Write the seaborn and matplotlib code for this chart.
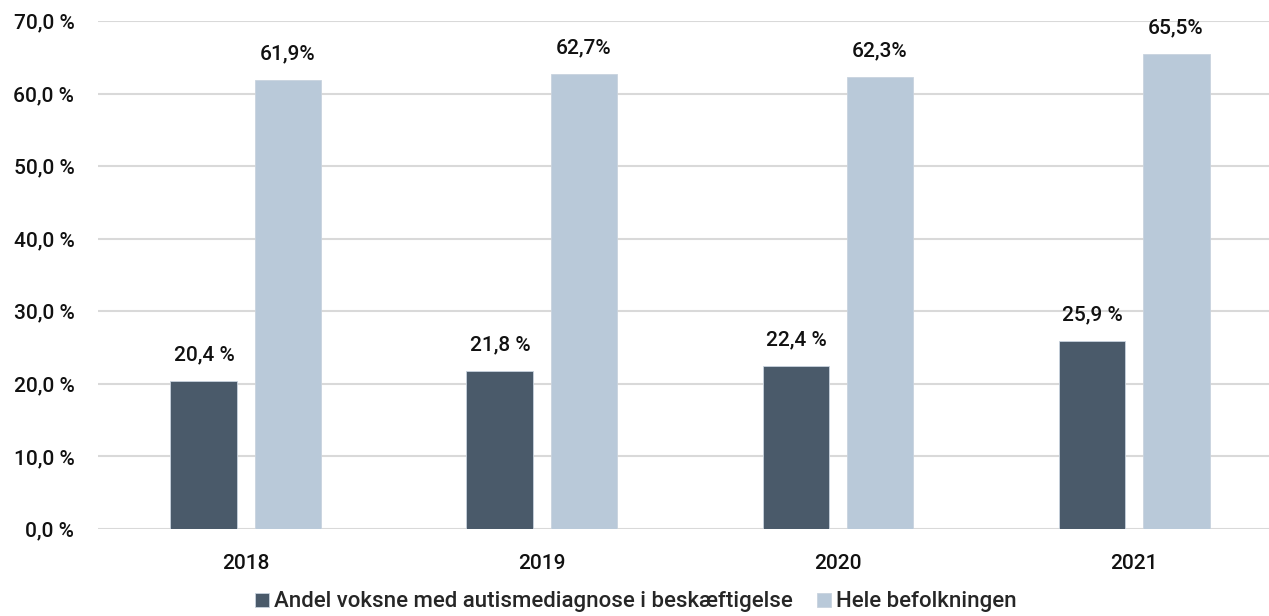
import pandas as pd
import seaborn as sns
import matplotlib.pyplot as plt

years = ['2018', '2019', '2020', '2021']
autisme = [20.4, 21.8, 22.4, 25.9]
befolkning = [61.9, 62.7, 62.3, 65.5]
series_names = ['Andel voksne med autismediagnose i beskæftigelse', 'Hele befolkningen']
yticks = [0, 10, 20, 30, 40, 50, 60, 70]

df = pd.DataFrame({
    'år': years * 2,
    'andel': autisme + befolkning,
    'gruppe': [series_names[0]] * 4 + [series_names[1]] * 4,
})

sns.set_theme(style='white')
plt.rcParams['font.family'] = ['Roboto', 'DejaVu Sans']
plt.rcParams['font.weight'] = 'medium'

fig = plt.figure(figsize=(12.69, 6.16), dpi=100)
ax = fig.add_axes([0.0772, 0.1412, 0.9228, 0.8248])

palette = ['#4a5a6a', '#b9c9d9']
sns.barplot(data=df, x='år', y='andel', hue='gruppe', palette=palette,
            width=0.568, gap=0.204, ax=ax, saturation=1,
            edgecolor='#c9d3de', linewidth=0.6, zorder=3)

# labels above bars
for cont, fmt in zip(ax.containers, ['{:.1f} %', '{:.1f}%']):
    labels = [fmt.format(v).replace('.', ',') for v in cont.datavalues]
    ax.bar_label(cont, labels=labels, padding=12, fontsize=15, color='#111111')

ax.set_ylim(0, 70)
# plot area runs slightly past the right edge of the figure
ax.set_xlim(-0.5, 3.456)
ax.set_yticks(yticks)
ax.set_yticklabels([f'{v:.1f} %'.replace('.', ',') for v in yticks])
ax.yaxis.grid(True, color='#d9d9d9', linewidth=1.5, zorder=0)
ax.set_axisbelow(True)
ax.tick_params(axis='y', length=0, pad=17, labelsize=15, labelcolor='#111111')
ax.tick_params(axis='x', length=0, pad=18, labelsize=15, labelcolor='#111111')
ax.set_xlabel('')
ax.set_ylabel('')
sns.despine(ax=ax, left=True, bottom=True)

handles, lbls = ax.get_legend_handles_labels()
ax.legend_.remove()
fig.legend(handles, lbls, loc='center', bbox_to_anchor=(636 / 1269, 1 - 602 / 616),
           ncol=2, frameon=False, fontsize=16, handlelength=0.6, handleheight=0.6,
           handletextpad=0.25, columnspacing=1.1, borderaxespad=0, borderpad=0)

fig.savefig('out.png', dpi=100)
